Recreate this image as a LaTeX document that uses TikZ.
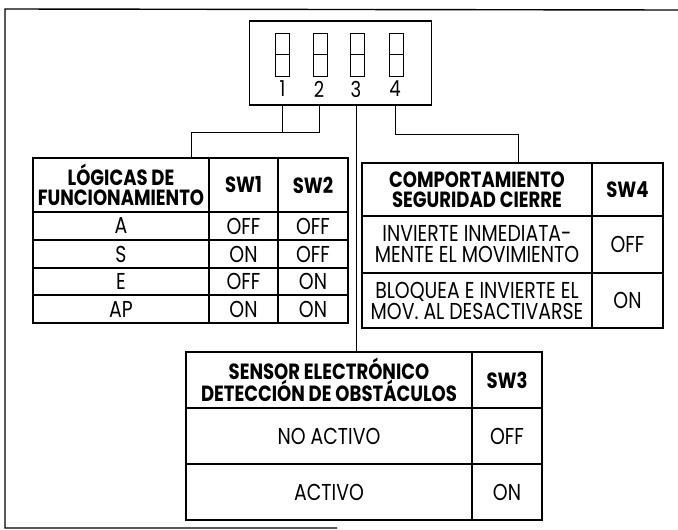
\documentclass[tikz,border=0pt]{standalone}
\usepackage{fontspec}
\setmainfont{Poppins}[FakeStretch=0.82]
\begin{document}
\begin{tikzpicture}[x=1pt,y=-1pt,
  cell/.style={draw, line width=1.1pt, inner sep=0pt, align=center,
    font=\fontsize{23}{21}\selectfont},
  hcell/.style={cell, font=\fontsize{22}{20.5}\selectfont\bfseries},
  conn/.style={line width=1pt},
  swbox/.style={draw, line width=1pt, minimum width=14pt, minimum height=43pt, inner sep=0pt},
  numlbl/.style={inner sep=0pt, font=\fontsize{22}{20}\selectfont}]
\useasboundingbox (0,0) rectangle (678,530);
% frame
\draw[line width=1.4pt] (678,10) -- (5,9) -- (5,528) -- (337,528);
% DIP switch
\node[draw, line width=1.1pt, minimum width=182pt, minimum height=84pt, inner sep=0pt] (dip) at (340.5,63) {};
\node[swbox] (s1) at (282.5,54.5) {};
\node[swbox] (s2) at (320,54.5) {};
\node[swbox] (s3) at (357,54.5) {};
\node[swbox] (s4) at (396,54.5) {};
\foreach \s in {s1,s2,s3,s4} \draw[line width=1pt] (\s.west) -- (\s.east);
\node[numlbl] (n1) at (282.5,89) {1};
\node[numlbl] (n2) at (319,89) {2};
\node[numlbl] (n3) at (356,89) {3};
\node[numlbl] (n4) at (395,89) {4};
% Table 1
\node[hcell, minimum width=176pt, minimum height=54pt] (t1h1) at (121,185) {LÓGICAS DE\\FUNCIONAMIENTO};
\node[hcell, minimum width=69pt, minimum height=54pt] (t1h2) at (243.5,185) {SW1};
\node[hcell, minimum width=70pt, minimum height=54pt] (t1h3) at (313,185) {SW2};
\node[cell, minimum width=176pt, minimum height=28pt] (t1a1) at (121,226) {A};
\node[cell, minimum width=69pt, minimum height=28pt] (t1a2) at (243.5,226) {OFF};
\node[cell, minimum width=70pt, minimum height=28pt] (t1a3) at (313,226) {OFF};
\node[cell, minimum width=176pt, minimum height=28pt] (t1b1) at (121,254) {S};
\node[cell, minimum width=69pt, minimum height=28pt] (t1b2) at (243.5,254) {ON};
\node[cell, minimum width=70pt, minimum height=28pt] (t1b3) at (313,254) {OFF};
\node[cell, minimum width=176pt, minimum height=27pt] (t1c1) at (121,281.5) {E};
\node[cell, minimum width=69pt, minimum height=27pt] (t1c2) at (243.5,281.5) {OFF};
\node[cell, minimum width=70pt, minimum height=27pt] (t1c3) at (313,281.5) {ON};
\node[cell, minimum width=176pt, minimum height=28pt] (t1d1) at (121,309) {AP};
\node[cell, minimum width=69pt, minimum height=28pt] (t1d2) at (243.5,309) {ON};
\node[cell, minimum width=70pt, minimum height=28pt] (t1d3) at (313,309) {ON};
% Table 2
\node[hcell, minimum width=230pt, minimum height=53pt] (t2h1) at (477,189.5) {COMPORTAMIENTO\\SEGURIDAD CIERRE};
\node[hcell, minimum width=71pt, minimum height=53pt] (t2h2) at (627.5,189.5) {SW4};
\node[cell, minimum width=230pt, minimum height=57pt] (t2a1) at (477,244.5) {INVIERTE INMEDIATA-\\MENTE EL MOVIMIENTO};
\node[cell, minimum width=71pt, minimum height=57pt] (t2a2) at (627.5,244.5) {OFF};
\node[cell, minimum width=230pt, minimum height=55pt] (t2b1) at (477,300.5) {BLOQUEA E INVIERTE EL\\MOV. AL DESACTIVARSE};
\node[cell, minimum width=71pt, minimum height=55pt] (t2b2) at (627.5,300.5) {ON};
% Table 3
\node[hcell, minimum width=286pt, minimum height=56pt] (t3h1) at (329,380) {SENSOR ELECTRÓNICO\\DETECCIÓN DE OBSTÁCULOS};
\node[hcell, minimum width=70pt, minimum height=56pt] (t3h2) at (507,380) {SW3};
\node[cell, minimum width=286pt, minimum height=56pt] (t3a1) at (329,436) {NO ACTIVO};
\node[cell, minimum width=70pt, minimum height=56pt] (t3a2) at (507,436) {OFF};
\node[cell, minimum width=286pt, minimum height=56pt] (t3b1) at (329,492) {ACTIVO};
\node[cell, minimum width=70pt, minimum height=56pt] (t3b2) at (507,492) {ON};
% connectors
\coordinate (j2) at (191.5,132);
\coordinate (j4) at (518,134);
\draw[conn] (n1 |- dip.south) -- (n1 |- j2);
\draw[conn] (n2 |- dip.south) |- (j2) -- (j2 |- t1h1.north);
\draw[conn] (n3 |- dip.south) -- (n3 |- t3h1.north);
\draw[conn] (n4 |- dip.south) |- (j4) -- (j4 |- t2h1.north);
\end{tikzpicture}
\end{document}
